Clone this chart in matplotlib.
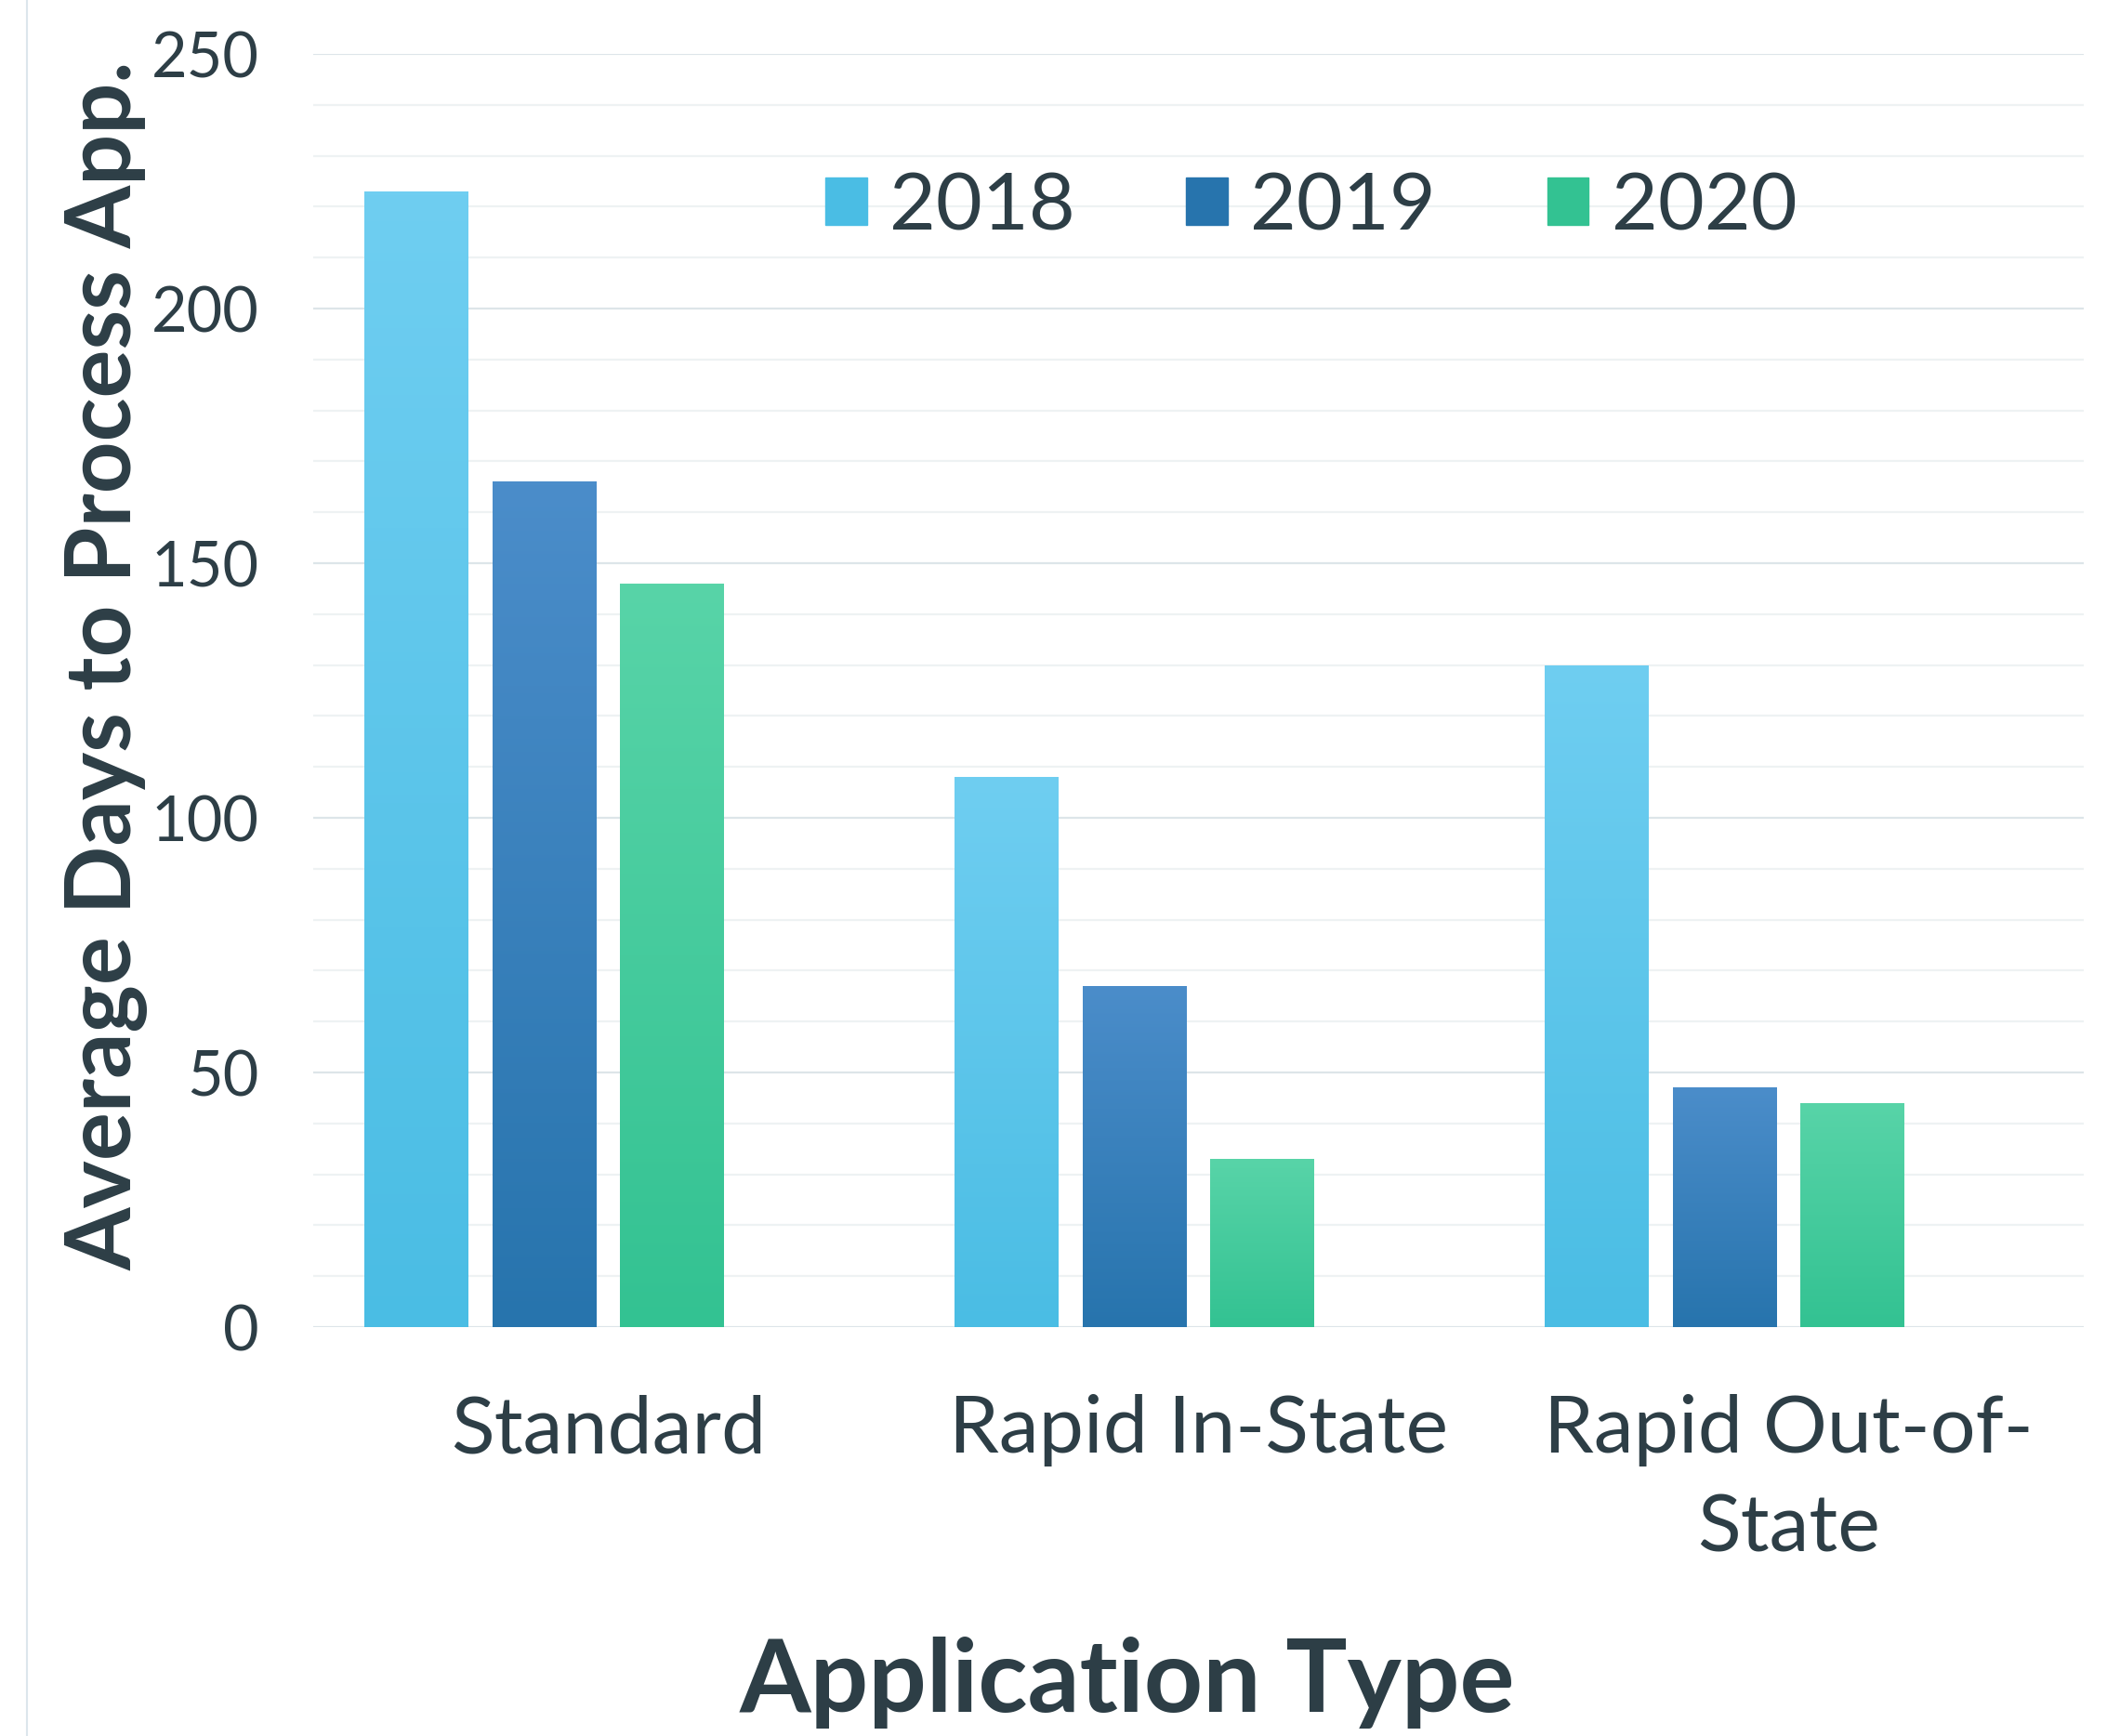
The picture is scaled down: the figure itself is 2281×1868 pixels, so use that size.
import numpy as np
import matplotlib
matplotlib.use('Agg')
import matplotlib.pyplot as plt
from matplotlib.colors import LinearSegmentedColormap
from matplotlib.lines import Line2D
import matplotlib.patheffects as pe

# data
categories = ['Standard', 'Rapid In-State', 'Rapid Out-of-\nState']
years = ['2018', '2019', '2020']
days_2018 = [223, 108, 130]
days_2019 = [166, 67, 47]
days_2020 = [146, 33, 44]
y_ticks = [0, 50, 100, 150, 200, 250]

# (top colour, bottom colour) for each year's gradient
colors = [('#6fcef1', '#4abde4'), ('#4b8dca', '#2774ad'), ('#58d4a8', '#33c292')]

TEXT = '#2d3e46'
plt.rcParams['font.family'] = ['Lato', 'DejaVu Sans']

fig = plt.figure(figsize=(22.81, 18.68), dpi=100)
ax = fig.add_axes([337 / 2281, 1 - 1428 / 1868, (2242 - 337) / 2281, (1428 - 58) / 1868])

# gridlines: minor every 10, major every 50
for v in range(0, 251, 10):
    c = '#dde5e9' if v % 50 == 0 else '#eef2f3'
    ax.axhline(v, color=c, lw=1.6, zorder=0)

pitch = 0.2165
width = 0.176
x = np.arange(len(categories))
series = [days_2018, days_2019, days_2020]
grad = np.linspace(0, 1, 256).reshape(-1, 1)

for i, vals in enumerate(series):
    top, bottom = colors[i]
    cmap = LinearSegmentedColormap.from_list('g%d' % i, [bottom, top])
    bars = ax.bar(x + (i - 1.5) * pitch, vals, width, color=bottom, zorder=2,
                  label=years[i])
    for b in bars:
        b.set_path_effects([pe.SimplePatchShadow(offset=(0, -2), shadow_rgbFace='#888888', alpha=0.25),
                            pe.Normal()])
        x0, w, h = b.get_x(), b.get_width(), b.get_height()
        im = ax.imshow(grad, cmap=cmap, origin='lower', aspect='auto',
                       extent=[x0, x0 + w, 0, h], zorder=3)
        im.set_clip_path(b)

ax.set_xlim(-0.5, 2.5)
ax.set_ylim(0, 250)
ax.set_yticks(y_ticks)
ax.set_xticks(x)
ax.set_xticklabels(categories, linespacing=1.45)
for s in ax.spines.values():
    s.set_visible(False)
ax.tick_params(axis='y', length=0, pad=42, labelsize=48, labelcolor=TEXT)
ax.tick_params(axis='x', length=0, pad=52, labelsize=62, labelcolor=TEXT)

# legend
handles = [plt.Rectangle((0, 0), 1, 1, color=c[1]) for c in colors]
leg = fig.legend(handles, years, loc='center left', bbox_to_anchor=(888 / 2281, 1 - 223 / 1868),
                 ncol=3, frameon=False, fontsize=62, handlelength=0.52, handleheight=0.52,
                 handletextpad=0.28, columnspacing=1.39, borderpad=0, borderaxespad=0)
for t in leg.get_texts():
    t.set_color(TEXT)

# axis titles
fig.text(115 / 2281, 1 - 716 / 1868, 'Average Days to Process App.', rotation=90,
         ha='center', va='center', fontsize=70, fontweight='bold', color=TEXT)
fig.text(1213 / 2281, 1 - 1811 / 1868, 'Application Type', ha='center', va='center',
         fontsize=79.5, fontweight='bold', color=TEXT)

# thin border line on the left of the chart container
fig.add_artist(Line2D([29 / 2281, 29 / 2281], [0, 1], transform=fig.transFigure,
                      color='#dce6ec', lw=1.5))

fig.savefig('out.png', dpi=100)
